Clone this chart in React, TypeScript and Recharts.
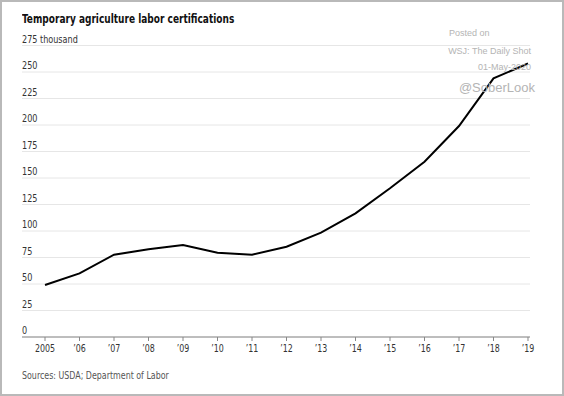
import { LineChart, Line, XAxis, YAxis, CartesianGrid } from 'recharts'

// Temporary agriculture labor certifications, thousands
const YEARS = [2005, 2006, 2007, 2008, 2009, 2010, 2011, 2012, 2013, 2014, 2015, 2016, 2017, 2018, 2019]
const CERTS = [49, 60, 77.6, 82.7, 86.8, 79.5, 77.6, 85.2, 98.4, 116.7, 140.3, 165.4, 199, 244, 258]
const Y_TICKS = [0, 25, 50, 75, 100, 125, 150, 175, 200, 225, 250, 275]

const NARROW = '"DejaVu Sans Condensed", "Liberation Sans", sans-serif'
const PLAIN = '"Liberation Sans", Arial, sans-serif'

const data = YEARS.map((year, i) => ({ year, value: CERTS[i] }))

const fmtYear = (y: number) => (y === 2005 ? '2005' : '\u2019' + String(y).slice(2))

function YTick(props: any) {
  const { x, y, payload } = props
  const label = payload.value === 275 ? '275 thousand' : String(payload.value)
  return (
    <text
      transform={`translate(${x},${y - 3}) scale(0.9,1)`}
      textAnchor="start"
      fontSize={10}
      fontFamily={NARROW}
      fill="#333"
    >
      {label}
    </text>
  )
}

function XTick(props: any) {
  const { x, y, payload } = props
  return (
    <text
      transform={`translate(${x},${y + 9}) scale(0.88,1)`}
      textAnchor="middle"
      fontSize={10}
      fontFamily={NARROW}
      fill="#333"
    >
      {fmtYear(payload.value)}
    </text>
  )
}

const narrowText = (scale: number) => ({
  transform: `scaleX(${scale})`,
  transformOrigin: 'left top',
  whiteSpace: 'nowrap' as const,
})

export default function App() {
  return (
    <div
      style={{
        position: 'fixed',
        left: 0,
        top: 0,
        width: 564,
        height: 396,
        background: '#fff',
        overflow: 'hidden',
      }}
    >
      <LineChart
        width={564}
        height={396}
        data={data}
        margin={{ top: 45.5, right: 34, bottom: 39, left: 22 }}
      >
        <CartesianGrid vertical={false} stroke="#e6e6e6" strokeWidth={1} />
        <XAxis
          dataKey="year"
          type="number"
          domain={[2004.333, 2019.058]}
          ticks={YEARS}
          interval={0}
          allowDataOverflow
          height={20}
          stroke="#888"
          tickSize={4}
          tickMargin={2}
          tick={(p: any) => <XTick {...p} />}
        />
        <YAxis
          type="number"
          domain={[0, 275]}
          ticks={Y_TICKS}
          interval={0}
          width={1}
          mirror
          axisLine={false}
          tickLine={false}
          tickSize={0}
          tickMargin={0}
          tick={(p: any) => <YTick {...p} />}
        />
        <Line
          type="linear"
          dataKey="value"
          stroke="#000"
          strokeWidth={2}
          dot={false}
          isAnimationActive={false}
        />
      </LineChart>

      <div style={{ position: 'absolute', left: 22, top: 11, fontFamily: NARROW, fontWeight: 'bold', fontSize: 13, color: '#111', ...narrowText(0.77) }}>
        Temporary agriculture labor certifications
      </div>

      <div style={{ position: 'absolute', left: 449, top: 28, fontFamily: PLAIN, fontSize: 9, color: '#b4b4b4', whiteSpace: 'nowrap' }}>
        Posted on
      </div>
      <div style={{ position: 'absolute', right: 33, top: 46, fontFamily: PLAIN, fontSize: 9, color: '#b4b4b4', whiteSpace: 'nowrap' }}>
        WSJ: The Daily Shot
      </div>
      <div style={{ position: 'absolute', right: 33, top: 62, fontFamily: PLAIN, fontSize: 9, color: '#b4b4b4', whiteSpace: 'nowrap' }}>
        01-May-2020
      </div>
      <div style={{ position: 'absolute', right: 29, top: 80, fontFamily: PLAIN, fontSize: 13, color: '#b4b4b4', whiteSpace: 'nowrap' }}>
        @SoberLook
      </div>

      <div style={{ position: 'absolute', left: 22, top: 369, fontFamily: NARROW, fontSize: 11, color: '#555', ...narrowText(0.8) }}>
        Sources: USDA; Department of Labor
      </div>

      <div
        style={{
          position: 'absolute',
          left: 0,
          top: 0,
          width: 564,
          height: 396,
          boxSizing: 'border-box',
          border: '2px solid #b9b9b9',
          pointerEvents: 'none',
        }}
      />
    </div>
  )
}
